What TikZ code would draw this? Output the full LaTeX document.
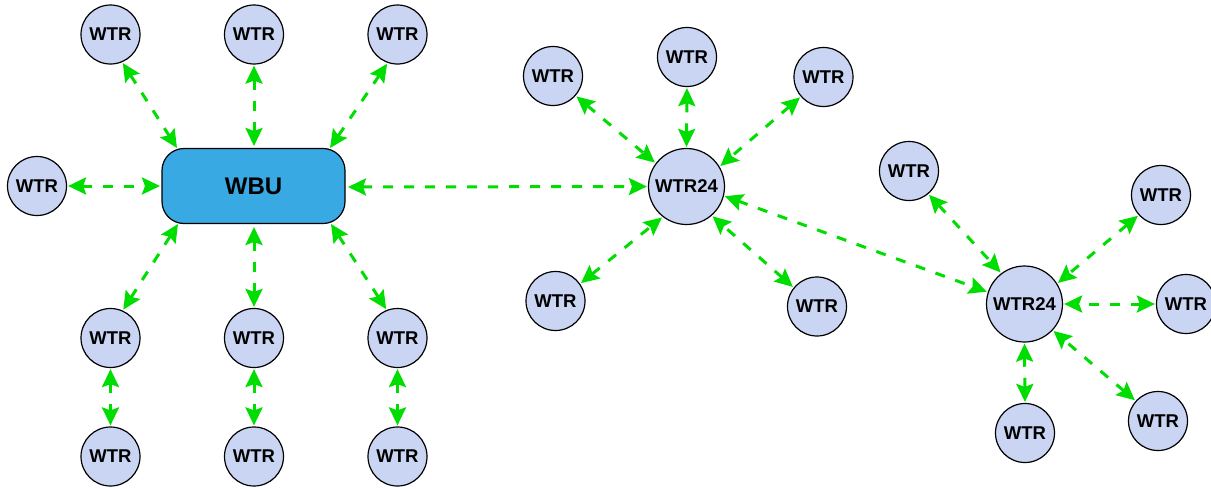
\documentclass[tikz,border=0pt]{standalone}
\usepackage{fontspec}
\setmainfont{Liberation Sans}
\usetikzlibrary{arrows.meta}
\definecolor{wtrfill}{HTML}{C9D5F2}
\definecolor{wbufill}{HTML}{38A9E3}
\definecolor{linkgreen}{HTML}{00DD00}
\tikzset{
  wtr/.style={circle,draw=black,line width=1.2pt,fill=wtrfill,minimum size=59pt,inner sep=0pt,
    font=\fontsize{18.5}{20}\selectfont\bfseries},
  hub/.style={wtr,minimum size=76pt},
  wbubox/.style={rectangle,rounded corners=22pt,draw=black,line width=1.2pt,fill=wbufill,minimum width=183pt,minimum height=75pt,inner sep=0pt,
    font=\fontsize{24}{27}\selectfont\bfseries},
  gtip/.style={Stealth[length=18pt,width=17pt,inset=3pt]},
  link/.style={draw=linkgreen,line width=3pt,dash pattern=on 10pt off 11pt,
    {Stealth[length=18pt,width=17pt,inset=3pt]}-{Stealth[length=18pt,width=17pt,inset=3pt]},shorten <=1pt,shorten >=1pt},
  linkw/.style={link,shorten >=0pt},
  linke/.style={link,shorten <=0pt},
}
\begin{document}
\begin{tikzpicture}[x=1pt,y=-1pt]
\useasboundingbox (0,0) rectangle (1211,488);
\node[wbubox] (wbu) at (253.5,186) {WBU};
\coordinate (wbuA) at (177,148);
\coordinate (wbuB) at (254,146);
\coordinate (wbuC) at (330,148);
\coordinate (wbuD) at (160,186);
\coordinate (wbuE) at (348,187);
\coordinate (wbuF) at (178,224);
\coordinate (wbuG) at (254,227);
\coordinate (wbuH) at (331,224);
\node[wtr] (t1) at (110.5,34.5) {WTR};
\node[wtr] (t2) at (254,34.5) {WTR};
\node[wtr] (t3) at (397.5,34.5) {WTR};
\node[wtr] (l1) at (37,186) {WTR};
\node[wtr] (b1) at (110.5,338) {WTR};
\node[wtr] (b2) at (254,338) {WTR};
\node[wtr] (b3) at (397.5,338) {WTR};
\node[wtr] (c1) at (110.5,456.5) {WTR};
\node[wtr] (c2) at (254,456.5) {WTR};
\node[wtr] (c3) at (397.5,456.5) {WTR};
\node[hub] (a) at (686.5,186.5) {WTR24};
\node[wtr] (a1) at (553,76) {WTR};
\node[wtr] (a2) at (687,57) {WTR};
\node[wtr] (a3) at (823.5,77) {WTR};
\node[wtr] (a4) at (555.5,301) {WTR};
\node[wtr] (a5) at (817,306.5) {WTR};
\node[hub] (h) at (1024.5,304) {WTR24};
\node[wtr] (h1) at (909,171) {WTR};
\node[wtr] (h2) at (1161,195) {WTR};
\node[wtr] (h3) at (1186,304) {WTR};
\node[wtr] (h4) at (1158,421) {WTR};
\node[wtr] (h5) at (1025,433) {WTR};
\draw[linkw] (t1.-67) -- (wbuA);
\draw[linkw] (t2.-90) -- (wbuB);
\draw[linkw] (t3.-109) -- (wbuC);
\draw[linkw] (l1.0) -- (wbuD);
\draw[linkw] (b1.66) -- (wbuF);
\draw[linkw] (b2.90) -- (wbuG);
\draw[linkw] (b3.111) -- (wbuH);
\draw[link] (b1.-90) -- (c1.90);
\draw[link] (b2.-90) -- (c2.90);
\draw[link] (b3.-90) -- (c3.90);
\draw[linke] (wbuE) -- (a.180);
\draw[link] (a1.-41) -- (a.143);
\draw[link] (a2.-90) -- (a.90);
\draw[link] (a3.-139) -- (a.31);
\draw[link] (a4.35) -- (a.232);
\draw[link] (a5.141) -- (a.-49);
\draw[link] (a.-14) -- (h.162);
\draw[link] (h1.-50) -- (h.127);
\draw[link] (h2.222) -- (h.32);
\draw[link] (h3.180) -- (h.0);
\draw[link] (h4.138) -- (h.-43);
\draw[link] (h5.90) -- (h.-90);
\end{tikzpicture}
\end{document}
